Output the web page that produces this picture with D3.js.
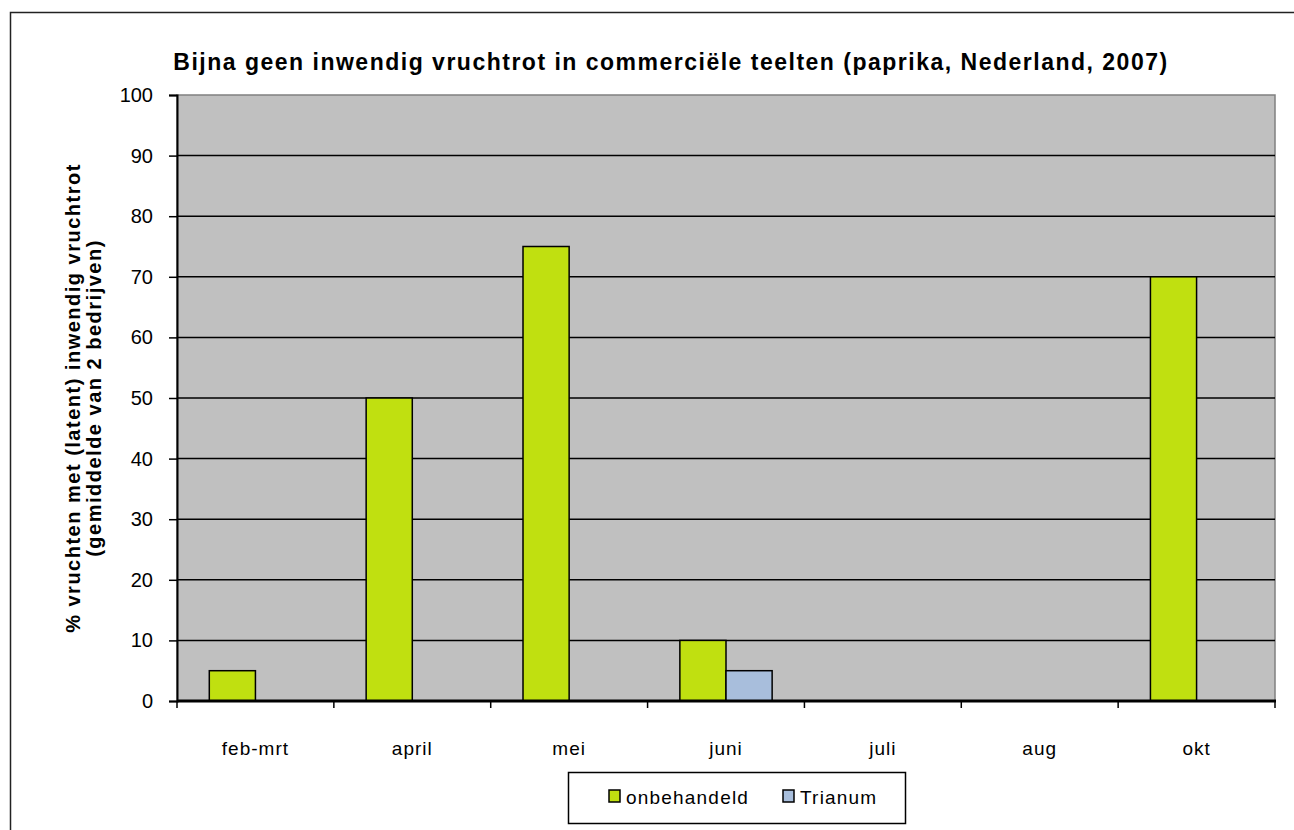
<!DOCTYPE html>
<html><head><meta charset="utf-8">
<title>Bijna geen inwendig vruchtrot</title>
<script src="https://d3js.org/d3.v7.min.js"></script>
<style>
  body { margin: 0; background: #fff; }
  text { font-family: Arial, "Liberation Sans", sans-serif; fill: #000; }
</style>
</head>
<body>
<svg width="1294" height="830"></svg>
<script>
// data
var maanden = ["feb-mrt", "april", "mei", "juni", "juli", "aug", "okt"];
var onbehandeld = [5, 50, 75, 10, 0, 0, 70];
var trianum = [0, 0, 0, 5, 0, 0, 0];
var reeksen = ["onbehandeld", "Trianum"];
var kleuren = ["#c0e010", "#a8bedc"];
var yTicks = [0, 10, 20, 30, 40, 50, 60, 70, 80, 90, 100];

var svg = d3.select("svg");

// layout
var pLeft = 177, pRight = 1275, pTop = 95, pBottom = 701;

// outer frame
svg.append("rect")
  .attr("x", 10.5).attr("y", 12.5)
  .attr("width", 1300).attr("height", 830)
  .attr("fill", "#fff").attr("stroke", "#222").attr("stroke-width", 1.5);

var x = d3.scaleBand().domain(maanden).range([pLeft, pRight]);
var xs = d3.scaleBand().domain(reeksen).range([0, x.bandwidth()]).paddingInner(0).paddingOuter(0.7);
var y = d3.scaleLinear().domain([0, 100]).range([pBottom, pTop]);

// plot background
svg.append("rect")
  .attr("x", pLeft).attr("y", pTop)
  .attr("width", pRight - pLeft).attr("height", pBottom - pTop)
  .attr("fill", "#c0c0c0").attr("stroke", "#808080").attr("stroke-width", 1.5);

// gridlines
svg.append("g").selectAll("line")
  .data(yTicks.filter(function(d){ return d > 0 && d < 100; }))
  .enter().append("line")
  .attr("x1", pLeft).attr("x2", pRight)
  .attr("y1", function(d){ return y(d); }).attr("y2", function(d){ return y(d); })
  .attr("stroke", "#000").attr("stroke-width", 1.5);

// bars
var rows = maanden.map(function(m, i){ return {m: m, vals: [onbehandeld[i], trianum[i]]}; });
var groups = svg.append("g").selectAll("g")
  .data(rows).enter().append("g")
  .attr("transform", function(d){ return "translate(" + x(d.m) + ",0)"; });
groups.selectAll("rect")
  .data(function(d){ return d.vals.map(function(v, j){ return {s: reeksen[j], v: v, c: kleuren[j]}; }); })
  .enter().filter(function(d){ return d.v > 0; })
  .append("rect")
  .attr("x", function(d){ return xs(d.s); })
  .attr("width", xs.bandwidth())
  .attr("y", function(d){ return y(d.v); })
  .attr("height", function(d){ return y(0) - y(d.v); })
  .attr("fill", function(d){ return d.c; })
  .attr("stroke", "#000").attr("stroke-width", 1.5);

// y axis
var yAxis = d3.axisLeft(y).tickValues(yTicks).tickSize(8).tickPadding(16);
var gy = svg.append("g").attr("transform", "translate(" + pLeft + ",0)").call(yAxis);
gy.select(".domain").attr("stroke", "#000").attr("stroke-width", 2);
gy.selectAll(".tick line").attr("stroke", "#000").attr("stroke-width", 1.5);
gy.selectAll(".tick text").style("font-size", "20px").style("font-family", "Arial, 'Liberation Sans', sans-serif").attr("fill", "#000");

// x axis (ticks at category boundaries)
var boundaries = maanden.map(function(m){ return x(m); }).concat([pRight]);
var gx = svg.append("g");
gx.append("line")
  .attr("x1", pLeft).attr("x2", pRight + 1)
  .attr("y1", pBottom).attr("y2", pBottom)
  .attr("stroke", "#000").attr("stroke-width", 3);
gx.selectAll(".bt").data(boundaries).enter().append("line")
  .attr("class", "bt")
  .attr("x1", function(d){ return d; }).attr("x2", function(d){ return d; })
  .attr("y1", pBottom).attr("y2", pBottom + 7)
  .attr("stroke", "#000").attr("stroke-width", 1.5);
gx.selectAll("text").data(maanden).enter().append("text")
  .attr("x", function(d){ return x(d) + x.bandwidth() / 2; })
  .attr("y", 755)
  .attr("text-anchor", "middle")
  .style("font-size", "19px").style("letter-spacing", "1px")
  .text(function(d){ return d; });

// title
svg.append("text")
  .attr("x", 671).attr("y", 70)
  .attr("text-anchor", "middle")
  .style("font-size", "23px").style("font-weight", "bold").style("letter-spacing", "1.5px")
  .text("Bijna geen inwendig vruchtrot  in commerciële teelten (paprika, Nederland, 2007)");

// y title
var yt = svg.append("text")
  .attr("transform", "translate(80," + ((pTop + pBottom) / 2) + ") rotate(-90)")
  .attr("text-anchor", "middle")
  .style("font-size", "20px").style("font-weight", "bold").style("letter-spacing", "1.5px");
yt.append("tspan").attr("x", 0).attr("dy", 0).text("% vruchten met (latent) inwendig vruchtrot");
yt.append("tspan").attr("x", 0).attr("dy", 21).text("(gemiddelde van 2 bedrijven)");

// legend
var lg = svg.append("g");
lg.append("rect")
  .attr("x", 568.5).attr("y", 772.5).attr("width", 337).attr("height", 51)
  .attr("fill", "#fff").attr("stroke", "#000").attr("stroke-width", 1.5);
var items = [{n: reeksen[0], c: kleuren[0], x: 609}, {n: reeksen[1], c: kleuren[1], x: 783}];
items.forEach(function(it){
  lg.append("rect")
    .attr("x", it.x).attr("y", 790).attr("width", 11).attr("height", 12)
    .attr("fill", it.c).attr("stroke", "#000").attr("stroke-width", 1.5);
  lg.append("text")
    .attr("x", it.x + 17).attr("y", 804)
    .style("font-size", "19px").style("letter-spacing", "1.2px")
    .text(it.n);
});
</script>
</body></html>
